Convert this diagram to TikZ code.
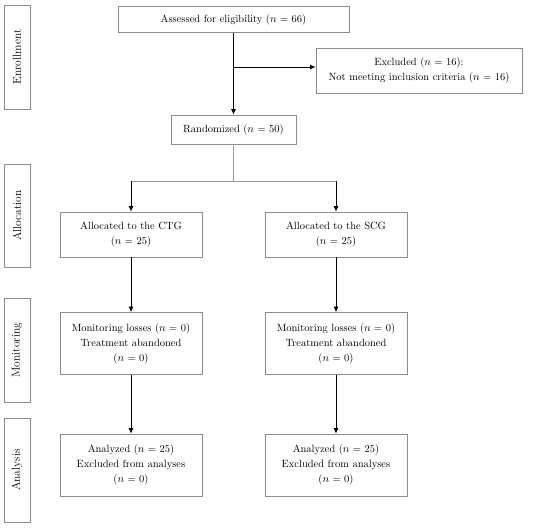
\documentclass[tikz,border=0pt]{standalone}
\usetikzlibrary{arrows.meta}
\begin{document}
\begin{tikzpicture}[x=1pt,y=-1pt,
  box/.style={draw=black!45, line width=0.7pt, align=center, inner sep=0pt,
    font=\fontsize{10.5}{15}\selectfont},
  side/.style={draw=black!45, line width=0.7pt, rotate=90, inner sep=0pt,
    minimum height=26pt, font=\fontsize{11.5}{14}\selectfont},
  arr/.style={draw=black, line width=0.9pt, -{Latex[length=5.5pt,width=5pt]}},
  gline/.style={draw=black!40, line width=0.9pt}]
\useasboundingbox (0,0) rectangle (550,528);
\fill[white] (0,0) rectangle (550,528);
% stage labels
\node[side, minimum width=104pt] (s1) at (17,57) {Enrollment};
\node[side, minimum width=103pt] (s2) at (17,215.5) {Allocation};
\node[side, minimum width=104pt] (s3) at (17,350) {Monitoring};
\node[side, minimum width=104pt] (s4) at (17,470) {Analysis};
% boxes
\node[box, minimum width=231pt, minimum height=26pt] (assess) at (233.5,19.5) {Assessed for eligibility ($n$ = 66)};
\node[box, minimum width=206pt, minimum height=45pt] (excl) at (419,70.5) {Excluded ($n$ = 16):\\Not meeting inclusion criteria ($n$ = 16)};
\node[box, minimum width=125pt, minimum height=29pt] (rand) at (233.5,129.5) {Randomized ($n$ = 50)};
\node[box, minimum width=142pt, minimum height=45pt] (ctg) at (131,234.5) {Allocated to the CTG\\($n$ = 25)};
\node[box, minimum width=142pt, minimum height=45pt] (scg) at (336,234.5) {Allocated to the SCG\\($n$ = 25)};
\node[box, minimum width=142pt, minimum height=62pt] (mctg) at (131,343.5) {Monitoring losses ($n$ = 0)\\Treatment abandoned\\($n$ = 0)};
\node[box, minimum width=142pt, minimum height=62pt] (mscg) at (336,343.5) {Monitoring losses ($n$ = 0)\\Treatment abandoned\\($n$ = 0)};
\node[box, minimum width=142pt, minimum height=62pt] (actg) at (131,465) {Analyzed ($n$ = 25)\\Excluded from analyses\\($n$ = 0)};
\node[box, minimum width=142pt, minimum height=62pt] (ascg) at (336,465) {Analyzed ($n$ = 25)\\Excluded from analyses\\($n$ = 0)};
% connectors
\coordinate (br) at (233.5,67);
\coordinate (split) at (233.5,181);
\draw[arr] (assess) -- (rand);
\draw[arr] (br) -- (br -| excl.west);
\draw[gline] (rand) -- (split);
\draw[gline] (split -| ctg) -- (split -| scg);
\draw[arr] (split -| ctg) -- (ctg);
\draw[arr] (split -| scg) -- (scg);
\draw[arr] (ctg) -- (mctg);
\draw[arr] (scg) -- (mscg);
\draw[arr] (mctg) -- (actg);
\draw[arr] (mscg) -- (ascg);
\end{tikzpicture}
\end{document}
